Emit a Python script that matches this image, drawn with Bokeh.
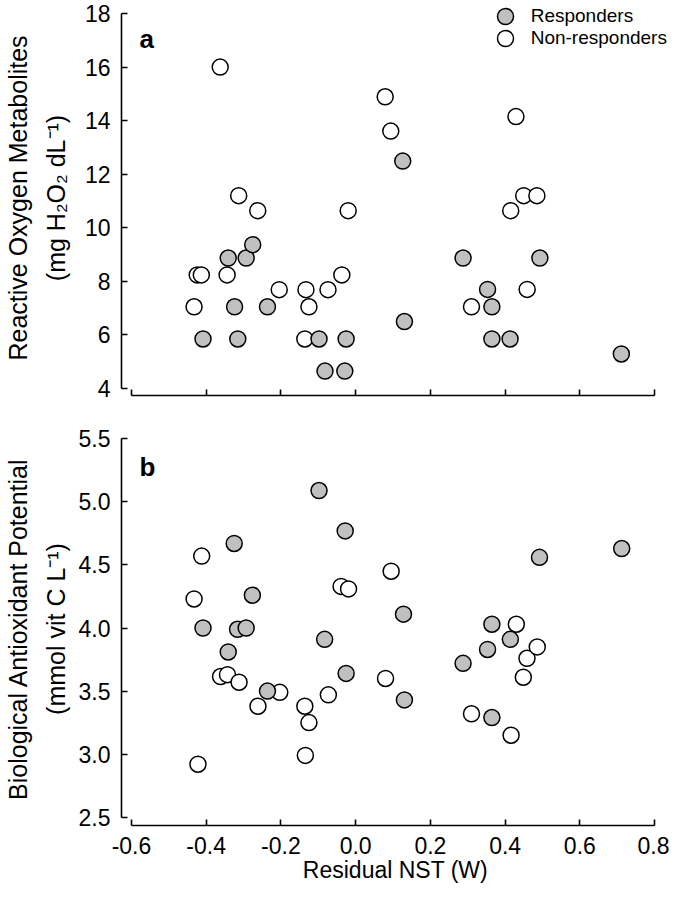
from bokeh.plotting import figure
from bokeh.models import Range1d, Legend, LegendItem, Label, FixedTicker, CustomJSTickFormatter
from bokeh.layouts import column
from bokeh.embed import file_html
from bokeh.resources import INLINE

# ---------------- data ----------------
x_ticks = [-0.6, -0.4, -0.2, 0.0, 0.2, 0.4, 0.6, 0.8]
rom_ticks = [4, 6, 8, 10, 12, 14, 16, 18]
bap_ticks = [2.5, 3.0, 3.5, 4.0, 4.5, 5.0, 5.5]

series_names = ["Responders", "Non-responders"]

# Panel a: Reactive Oxygen Metabolites
rom_resp_x = [-0.4085, -0.341, -0.324, -0.3154, -0.293, -0.2755, -0.236, -0.098, -0.082, -0.029,
              -0.0255, 0.126, 0.1305, 0.2875, 0.353, 0.3646, 0.3646, 0.4133, 0.493, 0.711]
rom_resp_y = [5.85, 8.87, 7.05, 5.85, 8.87, 9.37, 7.05, 5.85, 4.65, 4.65,
              5.85, 12.49, 6.50, 8.87, 7.70, 7.05, 5.85, 5.85, 8.87, 5.29]
rom_non_x = [-0.4324, -0.424, -0.413, -0.3625, -0.344, -0.313, -0.262, -0.2045, -0.136, -0.133, -0.125,
             -0.074, -0.037, -0.020, 0.079, 0.094, 0.310, 0.415, 0.429, 0.4497, 0.459, 0.485]
rom_non_y = [7.05, 8.24, 8.24, 16.0, 8.24, 11.2, 10.64, 7.69, 5.85, 7.69, 7.05,
             7.69, 8.24, 10.64, 14.89, 13.61, 7.05, 10.64, 14.15, 11.2, 7.70, 11.2]

# Panel b: Biological Antioxidant Potential
bap_resp_x = [-0.4085, -0.341, -0.325, -0.316, -0.293, -0.2764, -0.236, -0.098, -0.083, -0.028,
              -0.0255, 0.128, 0.1305, 0.2875, 0.353, 0.3646, 0.3646, 0.414, 0.492, 0.712]
bap_resp_y = [4.00, 3.81, 4.67, 3.99, 4.00, 4.26, 3.50, 5.09, 3.91, 4.77,
              3.64, 4.11, 3.43, 3.72, 3.83, 4.03, 3.29, 3.91, 4.56, 4.63]
bap_non_x = [-0.4324, -0.422, -0.412, -0.3615, -0.343, -0.312, -0.2614, -0.203, -0.136, -0.1346, -0.125,
             -0.073, -0.039, -0.019, 0.080, 0.095, 0.310, 0.416, 0.430, 0.4487, 0.4585, 0.486]
bap_non_y = [4.23, 2.92, 4.57, 3.615, 3.63, 3.57, 3.38, 3.49, 3.38, 2.99, 3.25,
             3.47, 4.33, 4.31, 3.60, 4.45, 3.32, 3.15, 4.03, 3.61, 3.76, 3.85]

# ---------------- style ----------------
FONT = "Liberation Sans"
GREY = "#c0c0c0"
MARKER_SIZE = 16
MARKER_LW = 1.5
XR = (-0.626616, 0.83992)


def style_axes(p, yticks, ybounds, ylabel, ydec, xlabels, title_standoff):
    p.outline_line_color = None
    p.xgrid.visible = False
    p.ygrid.visible = False
    p.background_fill_color = "white"
    p.border_fill_color = "white"
    for ax in (p.xaxis[0], p.yaxis[0]):
        ax.axis_line_width = 1.6
        ax.axis_line_color = "black"
        ax.major_tick_line_width = 1.6
        ax.major_tick_line_color = "black"
        ax.major_tick_in = 6
        ax.major_tick_out = 0
        ax.minor_tick_line_color = None
        ax.major_label_text_font = FONT
        ax.major_label_text_font_size = "23px"
        ax.major_label_text_color = "black"
        ax.axis_label_text_font = FONT
        ax.axis_label_text_font_style = "normal"
        ax.axis_label_text_color = "black"
    xa = p.xaxis[0]
    xa.ticker = FixedTicker(ticks=x_ticks)
    xa.bounds = (x_ticks[0], x_ticks[-1])
    if xlabels:
        xa.formatter = CustomJSTickFormatter(code="return tick.toFixed(1);")
        xa.major_label_standoff = 11
        xa.axis_label = "Residual NST (W)"
        xa.axis_label_text_font_size = "23px"
        xa.axis_label_standoff = 0
    else:
        xa.formatter = CustomJSTickFormatter(code="return '';")
        xa.major_label_standoff = 0
    ya = p.yaxis[0]
    ya.ticker = FixedTicker(ticks=yticks)
    ya.bounds = ybounds
    ya.formatter = CustomJSTickFormatter(code="return tick.toFixed(%d);" % ydec)
    ya.major_label_standoff = 11
    ya.axis_label = ylabel
    ya.axis_label_text_font_size = "25px"
    ya.axis_label_text_line_height = 1.35
    ya.axis_label_standoff = title_standoff


def add_points(p, rx, ry, nx, ny):
    r_non = p.scatter(nx, ny, marker="circle", size=MARKER_SIZE, fill_color="white",
                      line_color="black", line_width=MARKER_LW)
    r_resp = p.scatter(rx, ry, marker="circle", size=MARKER_SIZE, fill_color=GREY,
                       line_color="black", line_width=MARKER_LW)
    return r_resp, r_non


# ---------------- panel a ----------------
p1 = figure(width=669, height=412, output_backend="svg", toolbar_location=None,
            x_range=Range1d(*XR), y_range=Range1d(3.73867, 18.4853),
            min_border_left=118, min_border_right=0, min_border_top=0, min_border_bottom=17)
style_axes(p1, rom_ticks, (rom_ticks[0], rom_ticks[-1]),
           "Reactive Oxygen Metabolites\n(mg H\u2082O\u2082 dL\u207B\u00B9)", 0, False, 12)
ra_resp, ra_non = add_points(p1, rom_resp_x, rom_resp_y, rom_non_x, rom_non_y)

for i, (rend, vy) in enumerate([(ra_resp, 359), (ra_non, 337.3)]):
    leg = Legend(items=[LegendItem(label=series_names[i], renderers=[rend])],
                 location=(363.7, vy), padding=0, margin=0, spacing=0,
                 glyph_width=40, glyph_height=40, label_standoff=6,
                 label_text_font=FONT, label_text_font_size="19px", label_text_color="black",
                 border_line_color=None, background_fill_alpha=0)
    p1.add_layout(leg)

p1.add_layout(Label(x=18, y=357, x_units="screen", y_units="screen", text="a",
                    text_font=FONT, text_font_style="bold", text_font_size="26px",
                    text_baseline="alphabetic", text_color="black"))

# ---------------- panel b ----------------
p2 = figure(width=669, height=475, output_backend="svg", toolbar_location=None,
            x_range=Range1d(*XR), y_range=Range1d(2.43420, 5.54995),
            min_border_left=118, min_border_right=0, min_border_top=20, min_border_bottom=62)
style_axes(p2, bap_ticks, (bap_ticks[0], bap_ticks[-1]),
           "Biological Antioxidant Potential\n(mmol vit C L\u207B\u00B9)", 1, True, 6)
add_points(p2, bap_resp_x, bap_resp_y, bap_non_x, bap_non_y)

p2.add_layout(Label(x=18, y=358.3, x_units="screen", y_units="screen", text="b",
                    text_font=FONT, text_font_style="bold", text_font_size="26px",
                    text_baseline="alphabetic", text_color="black"))

layout = column(p1, p2)
open("out.html", "w").write(file_html(layout, INLINE))
